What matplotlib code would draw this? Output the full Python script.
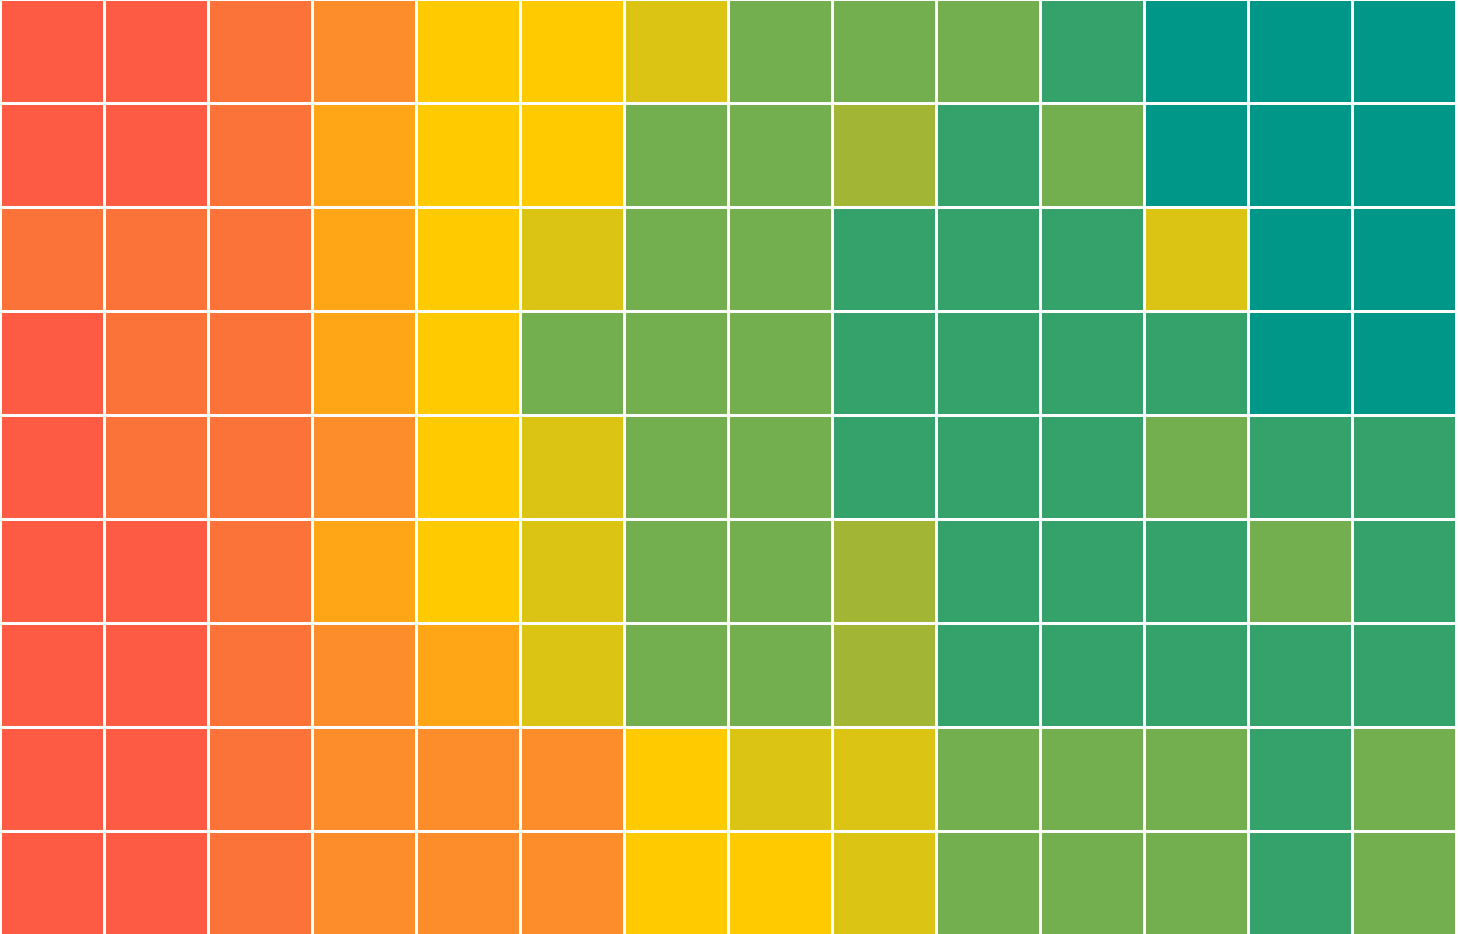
import numpy as np
import matplotlib
matplotlib.use("Agg")
import matplotlib.pyplot as plt
from matplotlib.colors import ListedColormap, BoundaryNorm

# colour levels, low -> high
level_colors = ["#FE5B45", "#FB7338", "#FC8D2A", "#FFA617", "#FFCA00",
                "#DBC414", "#A3B534", "#73AE4F", "#35A16B", "#009688"]

# one row per line of the grid, top row first
row0 = [0, 0, 1, 2, 4, 4, 5, 7, 7, 7, 8, 9, 9, 9]
row1 = [0, 0, 1, 3, 4, 4, 7, 7, 6, 8, 7, 9, 9, 9]
row2 = [1, 1, 1, 3, 4, 5, 7, 7, 8, 8, 8, 5, 9, 9]
row3 = [0, 1, 1, 3, 4, 7, 7, 7, 8, 8, 8, 8, 9, 9]
row4 = [0, 1, 1, 2, 4, 5, 7, 7, 8, 8, 8, 7, 8, 8]
row5 = [0, 0, 1, 3, 4, 5, 7, 7, 6, 8, 8, 8, 7, 8]
row6 = [0, 0, 1, 2, 3, 5, 7, 7, 6, 8, 8, 8, 8, 8]
row7 = [0, 0, 1, 2, 2, 2, 4, 5, 5, 7, 7, 7, 8, 7]
row8 = [0, 0, 1, 2, 2, 2, 4, 4, 5, 7, 7, 7, 8, 7]

grid = np.array([row0, row1, row2, row3, row4, row5, row6, row7, row8])
n_rows, n_cols = grid.shape

cmap = ListedColormap(level_colors)
norm = BoundaryNorm(np.arange(len(level_colors) + 1) - 0.5, cmap.N)

W, H = 1458, 934
fig = plt.figure(figsize=(W / 100, H / 100), dpi=100)
ax = fig.add_axes([0, 0, 1, 1])

# flip so the first row sits at the top
ax.pcolormesh(grid[::-1], cmap=cmap, norm=norm, edgecolors="white", linewidth=1.0)

ax.set_xlim(0, 14.02)
# outer top/bottom borders fall just outside the picture
ax.set_ylim(0.01, 8.99)
ax.axis("off")

fig.savefig("out.png", dpi=100)
